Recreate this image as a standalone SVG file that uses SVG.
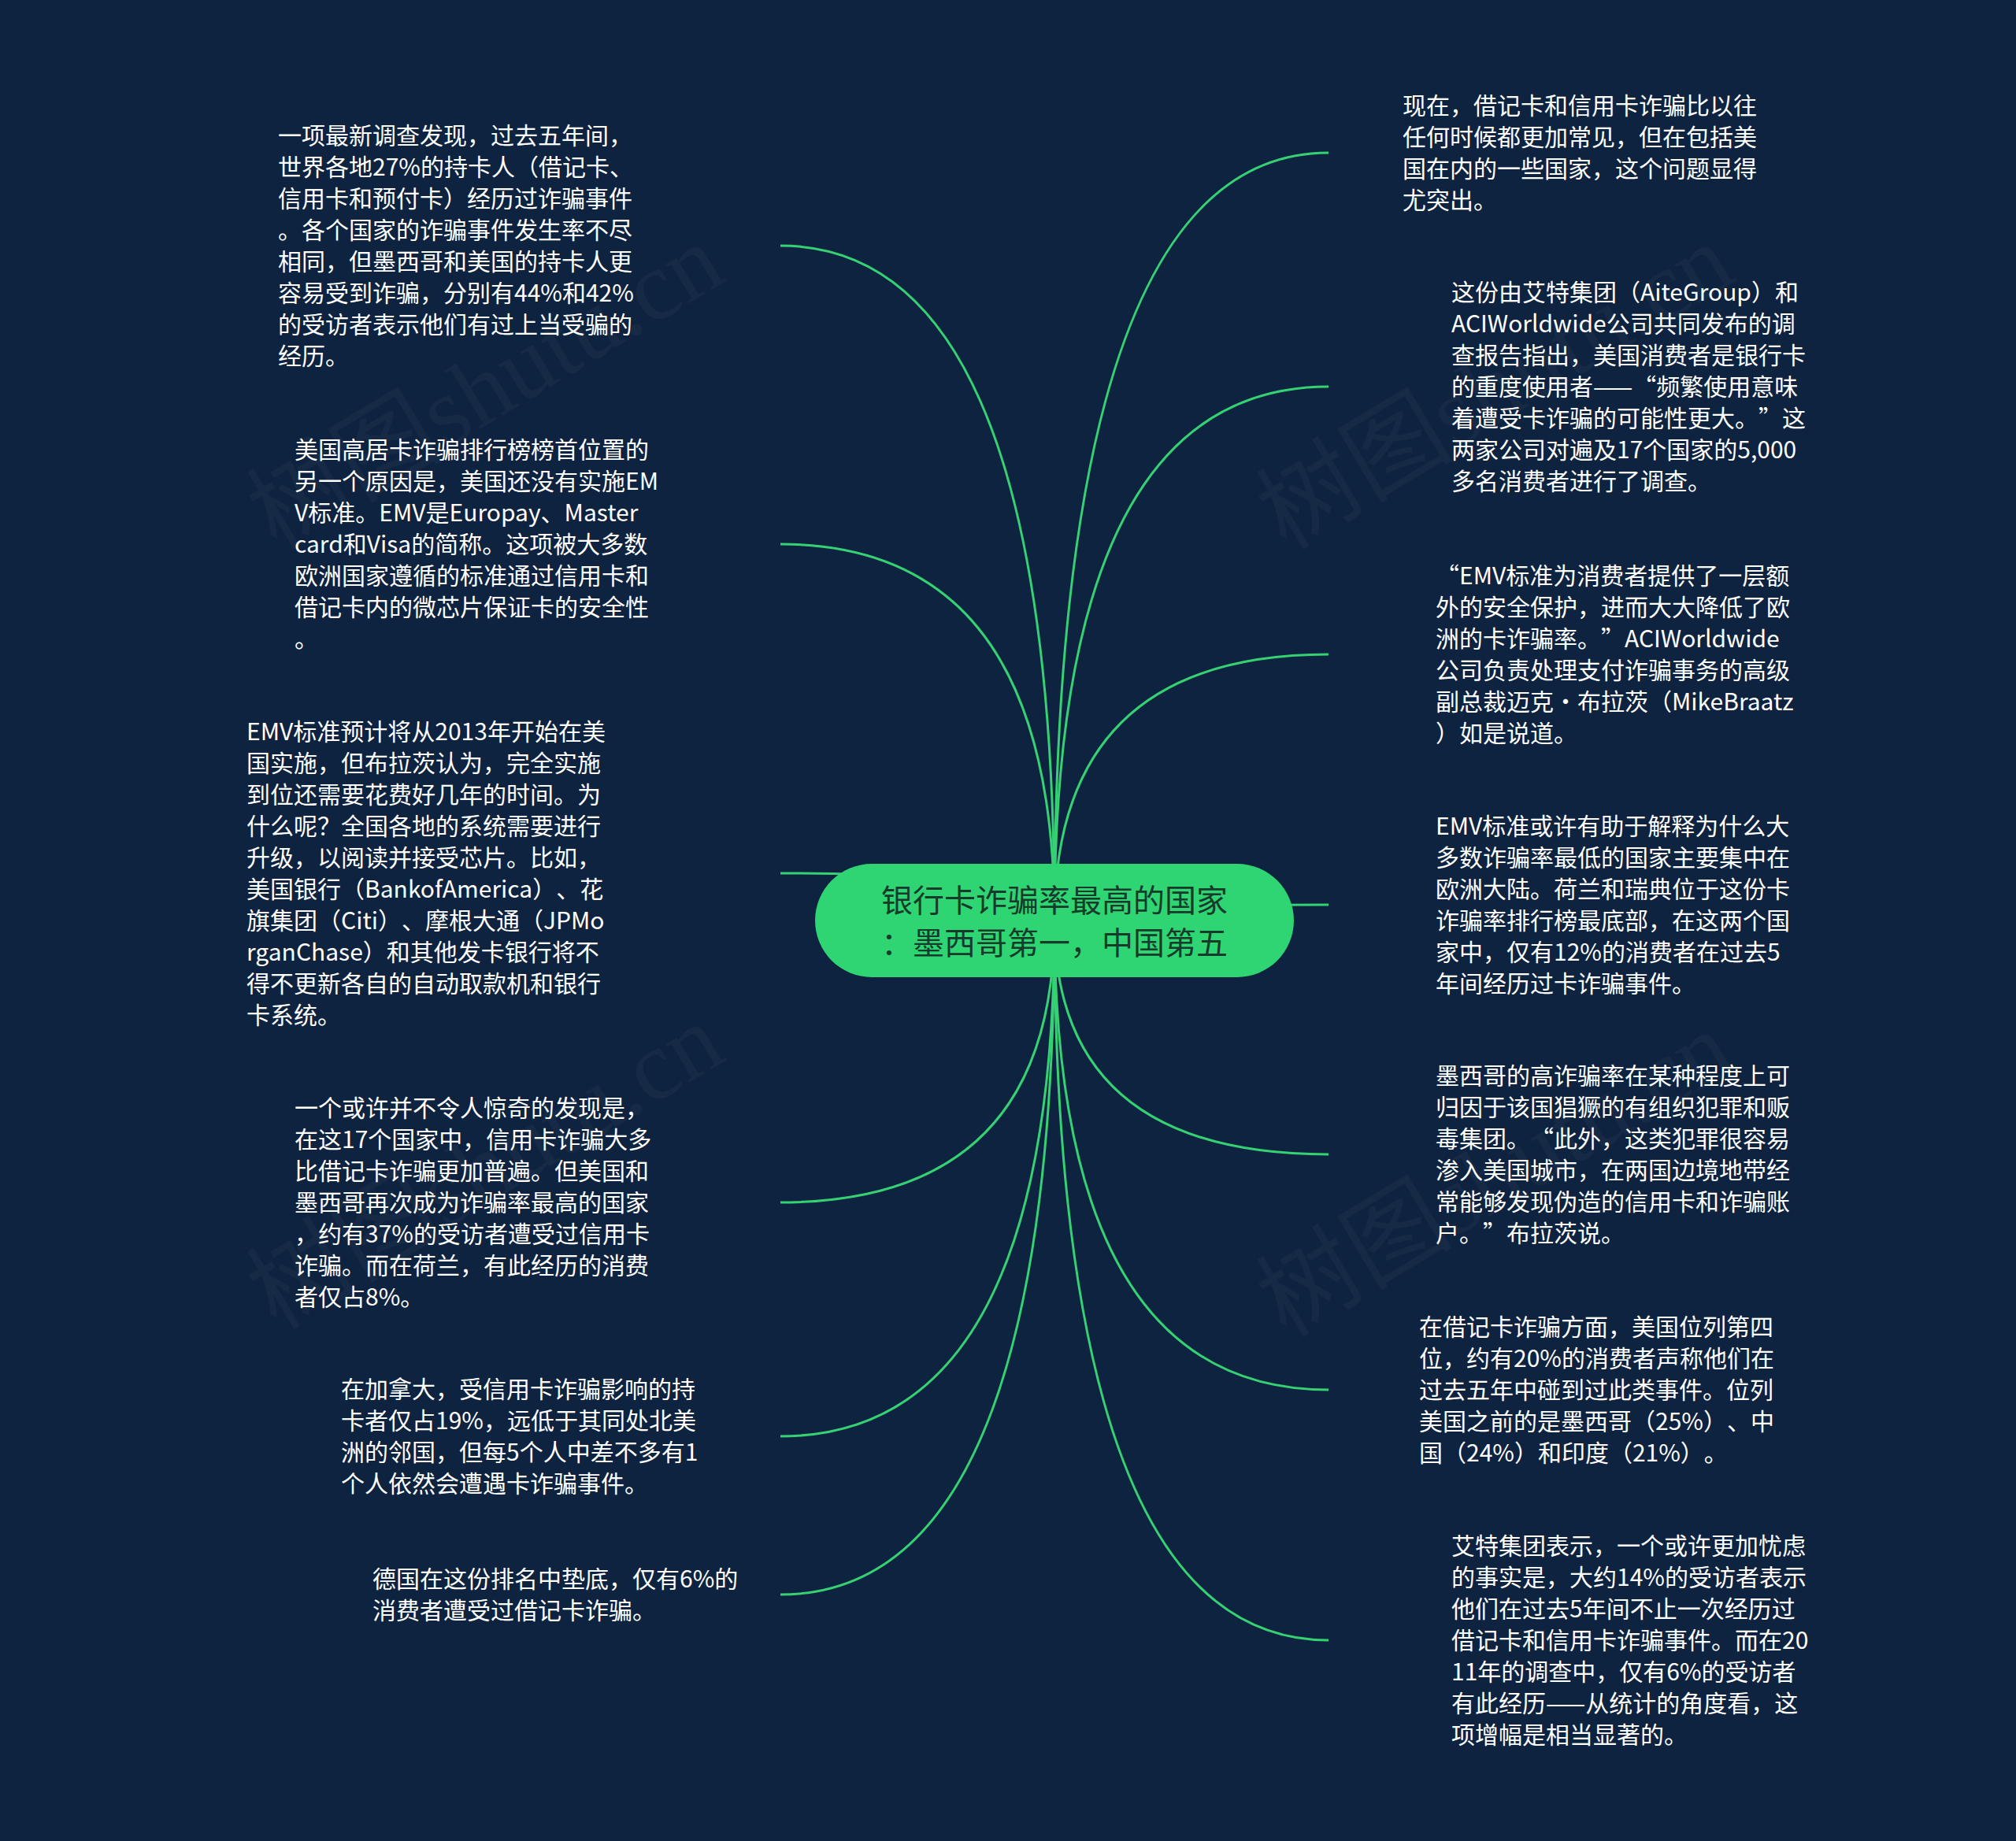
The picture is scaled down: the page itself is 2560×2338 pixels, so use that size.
<svg xmlns="http://www.w3.org/2000/svg" width="2560" height="2338" viewBox="0 0 2560 2338">
<defs>
<style>
.bg{fill:#0e2340}
.link{fill:none;stroke:#35d173;stroke-width:3}
.t{font-family:"Noto Sans CJK SC","Noto Sans",sans-serif;font-size:30px;fill:#ffffff;text-spacing-trim:space-all}
.ct{font-family:"Noto Sans CJK SC","Noto Sans",sans-serif;font-size:40px;fill:#173b2b;text-anchor:middle;text-spacing-trim:space-all}
.root{fill:#2fd573}
.wm{font-family:"Liberation Serif","Noto Sans CJK SC",serif;font-size:125px;fill:#ffffff;opacity:0.03}
</style>
</defs>
<rect class="bg" x="0" y="0" width="2560" height="2338"/>
<g id="watermarks">
<text class="wm" transform="translate(351,700) rotate(-31)">树图shutu.cn</text>
<text class="wm" transform="translate(1633,700) rotate(-31)">树图shutu.cn</text>
<text class="wm" transform="translate(351,1690) rotate(-31)">树图shutu.cn</text>
<text class="wm" transform="translate(1633,1700) rotate(-31)">树图shutu.cn</text>
</g>
<g id="connectors">
<path class="link" d="M1339,1169 Q1339,312 991,312"/>
<path class="link" d="M1339,1169 Q1339,691 991,691"/>
<path class="link" d="M1339,1169 Q1339,1109 991,1109"/>
<path class="link" d="M1339,1169 Q1339,1527 991,1527"/>
<path class="link" d="M1339,1169 Q1339,1824 991,1824"/>
<path class="link" d="M1339,1169 Q1339,2025 991,2025"/>
<path class="link" d="M1339,1169 Q1339,194 1687,194"/>
<path class="link" d="M1339,1169 Q1339,491 1687,491"/>
<path class="link" d="M1339,1169 Q1339,831 1687,831"/>
<path class="link" d="M1339,1169 Q1339,1149 1687,1149"/>
<path class="link" d="M1339,1169 Q1339,1466 1687,1466"/>
<path class="link" d="M1339,1169 Q1339,1765 1687,1765"/>
<path class="link" d="M1339,1169 Q1339,2083 1687,2083"/>
</g>
<g id="root">
<rect class="root" x="1035" y="1097" width="608" height="144" rx="72" ry="72"/>
<text class="ct"><tspan x="1339" y="1158">银行卡诈骗率最高的国家</tspan><tspan x="1339" y="1212">：墨西哥第一，中国第五</tspan></text>
</g>
<g id="node-l1">
<text class="t"><tspan x="353" y="183">一项最新调查发现，过去五年间，</tspan><tspan x="353" y="223">世界各地27%的持卡人（借记卡、</tspan><tspan x="353" y="263">信用卡和预付卡）经历过诈骗事件</tspan><tspan x="353" y="303">。各个国家的诈骗事件发生率不尽</tspan><tspan x="353" y="343">相同，但墨西哥和美国的持卡人更</tspan><tspan x="353" y="383">容易受到诈骗，分别有44%和42%</tspan><tspan x="353" y="423">的受访者表示他们有过上当受骗的</tspan><tspan x="353" y="463">经历。</tspan></text>
</g>
<g id="node-l2">
<text class="t"><tspan x="374" y="582">美国高居卡诈骗排行榜榜首位置的</tspan><tspan x="374" y="622">另一个原因是，美国还没有实施EM</tspan><tspan x="374" y="662">V标准。EMV是Europay、Master</tspan><tspan x="374" y="702">card和Visa的简称。这项被大多数</tspan><tspan x="374" y="742">欧洲国家遵循的标准通过信用卡和</tspan><tspan x="374" y="782">借记卡内的微芯片保证卡的安全性</tspan><tspan x="374" y="822">。</tspan></text>
</g>
<g id="node-l3">
<text class="t"><tspan x="313" y="940">EMV标准预计将从2013年开始在美</tspan><tspan x="313" y="980">国实施，但布拉茨认为，完全实施</tspan><tspan x="313" y="1020">到位还需要花费好几年的时间。为</tspan><tspan x="313" y="1060">什么呢？全国各地的系统需要进行</tspan><tspan x="313" y="1100">升级，以阅读并接受芯片。比如，</tspan><tspan x="313" y="1140">美国银行（BankofAmerica）、花</tspan><tspan x="313" y="1180">旗集团（Citi）、摩根大通（JPMo</tspan><tspan x="313" y="1220">rganChase）和其他发卡银行将不</tspan><tspan x="313" y="1260">得不更新各自的自动取款机和银行</tspan><tspan x="313" y="1300">卡系统。</tspan></text>
</g>
<g id="node-l4">
<text class="t"><tspan x="374" y="1418">一个或许并不令人惊奇的发现是，</tspan><tspan x="374" y="1458">在这17个国家中，信用卡诈骗大多</tspan><tspan x="374" y="1498">比借记卡诈骗更加普遍。但美国和</tspan><tspan x="374" y="1538">墨西哥再次成为诈骗率最高的国家</tspan><tspan x="374" y="1578">，约有37%的受访者遭受过信用卡</tspan><tspan x="374" y="1618">诈骗。而在荷兰，有此经历的消费</tspan><tspan x="374" y="1658">者仅占8%。</tspan></text>
</g>
<g id="node-l5">
<text class="t"><tspan x="433" y="1775">在加拿大，受信用卡诈骗影响的持</tspan><tspan x="433" y="1815">卡者仅占19%，远低于其同处北美</tspan><tspan x="433" y="1855">洲的邻国，但每5个人中差不多有1</tspan><tspan x="433" y="1895">个人依然会遭遇卡诈骗事件。</tspan></text>
</g>
<g id="node-l6">
<text class="t"><tspan x="473" y="2016">德国在这份排名中垫底，仅有6%的</tspan><tspan x="473" y="2056">消费者遭受过借记卡诈骗。</tspan></text>
</g>
<g id="node-r1">
<text class="t"><tspan x="1781" y="145">现在，借记卡和信用卡诈骗比以往</tspan><tspan x="1781" y="185">任何时候都更加常见，但在包括美</tspan><tspan x="1781" y="225">国在内的一些国家，这个问题显得</tspan><tspan x="1781" y="265">尤突出。</tspan></text>
</g>
<g id="node-r2">
<text class="t"><tspan x="1843" y="382">这份由艾特集团（AiteGroup）和</tspan><tspan x="1843" y="422">ACIWorldwide公司共同发布的调</tspan><tspan x="1843" y="462">查报告指出，美国消费者是银行卡</tspan><tspan x="1843" y="502">的重度使用者——“频繁使用意味</tspan><tspan x="1843" y="542">着遭受卡诈骗的可能性更大。”这</tspan><tspan x="1843" y="582">两家公司对遍及17个国家的5,000</tspan><tspan x="1843" y="622">多名消费者进行了调查。</tspan></text>
</g>
<g id="node-r3">
<text class="t"><tspan x="1823" y="742">“EMV标准为消费者提供了一层额</tspan><tspan x="1823" y="782">外的安全保护，进而大大降低了欧</tspan><tspan x="1823" y="822">洲的卡诈骗率。”ACIWorldwide</tspan><tspan x="1823" y="862">公司负责处理支付诈骗事务的高级</tspan><tspan x="1823" y="902">副总裁迈克·布拉茨（MikeBraatz</tspan><tspan x="1823" y="942">）如是说道。</tspan></text>
</g>
<g id="node-r4">
<text class="t"><tspan x="1823" y="1060">EMV标准或许有助于解释为什么大</tspan><tspan x="1823" y="1100">多数诈骗率最低的国家主要集中在</tspan><tspan x="1823" y="1140">欧洲大陆。荷兰和瑞典位于这份卡</tspan><tspan x="1823" y="1180">诈骗率排行榜最底部，在这两个国</tspan><tspan x="1823" y="1220">家中，仅有12%的消费者在过去5</tspan><tspan x="1823" y="1260">年间经历过卡诈骗事件。</tspan></text>
</g>
<g id="node-r5">
<text class="t"><tspan x="1823" y="1377">墨西哥的高诈骗率在某种程度上可</tspan><tspan x="1823" y="1417">归因于该国猖獗的有组织犯罪和贩</tspan><tspan x="1823" y="1457">毒集团。“此外，这类犯罪很容易</tspan><tspan x="1823" y="1497">渗入美国城市，在两国边境地带经</tspan><tspan x="1823" y="1537">常能够发现伪造的信用卡和诈骗账</tspan><tspan x="1823" y="1577">户。”布拉茨说。</tspan></text>
</g>
<g id="node-r6">
<text class="t"><tspan x="1802" y="1696">在借记卡诈骗方面，美国位列第四</tspan><tspan x="1802" y="1736">位，约有20%的消费者声称他们在</tspan><tspan x="1802" y="1776">过去五年中碰到过此类事件。位列</tspan><tspan x="1802" y="1816">美国之前的是墨西哥（25%）、中</tspan><tspan x="1802" y="1856">国（24%）和印度（21%）。</tspan></text>
</g>
<g id="node-r7">
<text class="t"><tspan x="1843" y="1974">艾特集团表示，一个或许更加忧虑</tspan><tspan x="1843" y="2014">的事实是，大约14%的受访者表示</tspan><tspan x="1843" y="2054">他们在过去5年间不止一次经历过</tspan><tspan x="1843" y="2094">借记卡和信用卡诈骗事件。而在20</tspan><tspan x="1843" y="2134">11年的调查中，仅有6%的受访者</tspan><tspan x="1843" y="2174">有此经历——从统计的角度看，这</tspan><tspan x="1843" y="2214">项增幅是相当显著的。</tspan></text>
</g>
</svg>
